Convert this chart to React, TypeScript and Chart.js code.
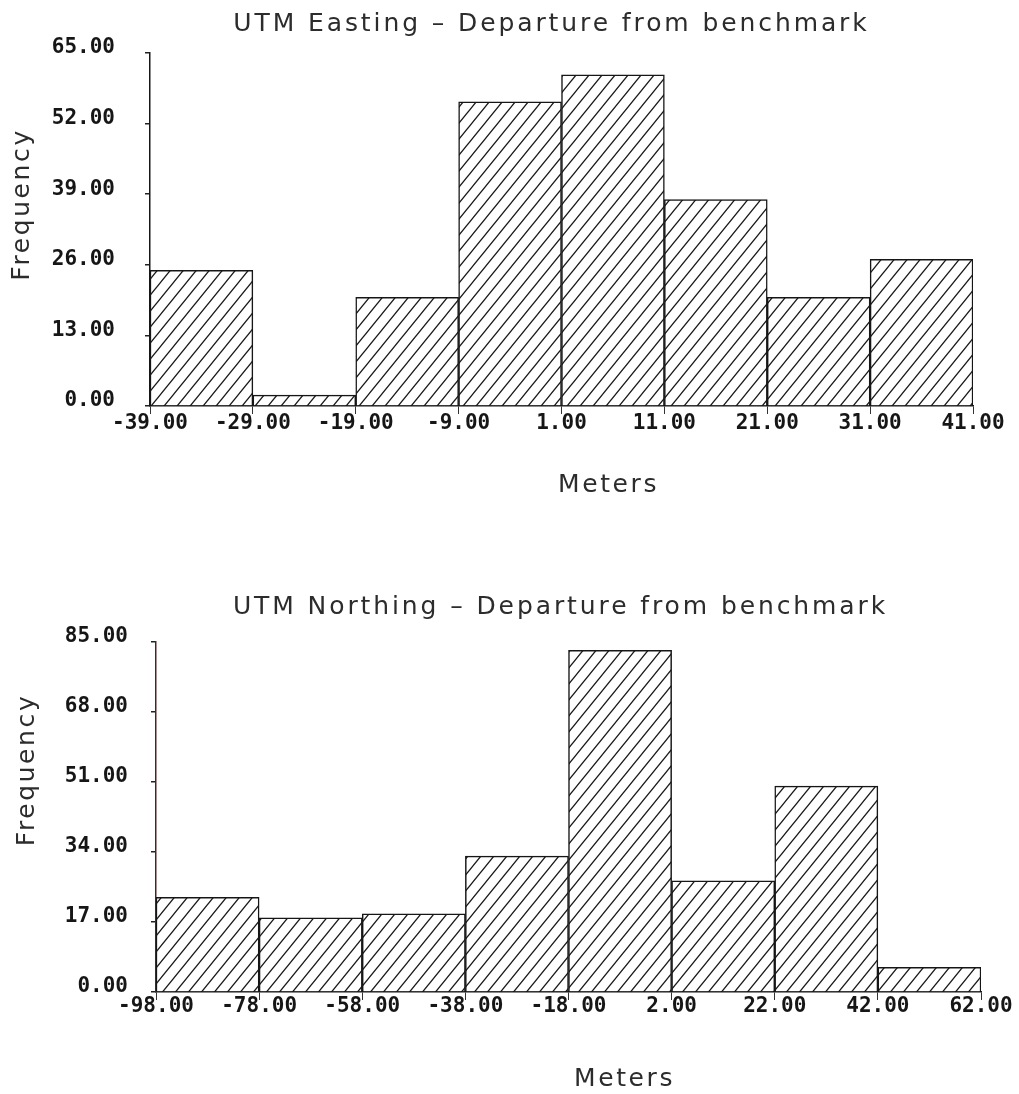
import React, { useEffect, useRef } from 'react';
import { Chart, registerables } from 'chart.js';

Chart.register(...registerables);

// ---------- data ----------
const eastingTitle = 'UTM Easting – Departure from benchmark';
const eastingEdges = [-39, -29, -19, -9, 1, 11, 21, 31, 41];
const eastingCounts = [25, 2, 20, 56, 61, 38, 20, 27];
const eastingYTicks = [0, 13, 26, 39, 52, 65];

const northingTitle = 'UTM Northing – Departure from benchmark';
const northingEdges = [-98, -78, -58, -38, -18, 2, 22, 42, 62];
const northingCounts = [23, 18, 19, 33, 83, 27, 50, 6];
const northingYTicks = [0, 17, 34, 51, 68, 85];

const xAxisTitle = 'Meters';
const yAxisTitle = 'Frequency';

// ---------- style ----------
const TEXT_FONT = 'DejaVu Sans';
const MONO_FONT = 'DejaVu Sans Mono';
const TEXT_COLOR = '#2c2c2c';
const INK = '#161616';

function makeHatch(): CanvasPattern | string {
  const w = 13;
  const h = 16;
  const c = document.createElement('canvas');
  c.width = w;
  c.height = h;
  const g = c.getContext('2d');
  if (!g) return '#fff';
  g.fillStyle = '#ffffff';
  g.fillRect(0, 0, w, h);
  g.strokeStyle = '#1a1a1a';
  g.lineWidth = 1.35;
  g.beginPath();
  for (const o of [-w, 0, w]) {
    g.moveTo(o - 1.3, h + 1.6);
    g.lineTo(o + w + 1.3, -1.6);
  }
  g.stroke();
  return g.createPattern(c, 'repeat') || '#fff';
}

type Layout = {
  height: number;
  titlePadTop: number;
  titlePadBottom: number;
  titleDx: number;
  yWidth: number;
  yTitlePadTop: number;
  yTitleDy: number;
  yTickPad: number;
  yBorderColor: string;
  padRight: number;
  xHeight: number;
  xTickPad: number;
  xTitlePadBottom: number;
  xTitleDx: number;
};

type Props = {
  title: string;
  edges: number[];
  counts: number[];
  yTicks: number[];
  layout: Layout;
};

function wrapDraw(chart: any, obj: any, name: string, dx: number, dy: number, spacing: string) {
  if (!obj || obj['__wrapped_' + name]) return;
  const orig = obj[name];
  obj[name] = function (...args: any[]) {
    const ctx = chart.ctx;
    ctx.save();
    try {
      (ctx as any).letterSpacing = spacing;
    } catch (e) {}
    ctx.translate(dx, dy);
    const r = orig.apply(this, args);
    ctx.restore();
    return r;
  };
  obj['__wrapped_' + name] = true;
}

function HistChart({ title, edges, counts, yTicks, layout }: Props) {
  const ref = useRef<HTMLCanvasElement>(null);

  useEffect(() => {
    if (!ref.current) return;
    const hatch = makeHatch();
    const points = counts.map((c, i) => ({ x: (edges[i] + edges[i + 1]) / 2, y: c }));
    const fmt = (v: any) => Number(v).toFixed(2);

    const spacingPlugin = {
      id: 'textSpacing',
      afterLayout(chart: any) {
        wrapDraw(chart, chart.titleBlock, 'draw', layout.titleDx, 0, '2.9px');
        wrapDraw(chart, chart.scales.x, 'drawTitle', layout.xTitleDx, 0, '2.6px');
        wrapDraw(chart, chart.scales.y, 'drawTitle', 0, layout.yTitleDy, '2.6px');
      },
    };

    const chart = new Chart(ref.current, {
      type: 'bar',
      data: {
        datasets: [
          {
            data: points as any,
            backgroundColor: hatch as any,
            borderColor: INK,
            borderWidth: 1.5,
            barPercentage: 1,
            categoryPercentage: 1,
          },
        ],
      },
      options: {
        animation: false,
        responsive: false,
        events: [],
        layout: { padding: { left: 0, right: layout.padRight, top: 0, bottom: 0 } },
        plugins: {
          legend: { display: false },
          tooltip: { enabled: false },
          title: {
            display: true,
            text: title,
            color: TEXT_COLOR,
            font: { family: TEXT_FONT, size: 25, weight: 'normal', lineHeight: 1.2 },
            padding: { top: layout.titlePadTop, bottom: layout.titlePadBottom },
          },
        },
        scales: {
          x: {
            type: 'linear',
            min: edges[0],
            max: edges[edges.length - 1],
            offset: false,
            afterBuildTicks: (s: any) => {
              s.ticks = edges.map((v) => ({ value: v }));
            },
            afterFit: (s: any) => {
              s.height = layout.xHeight;
            },
            ticks: {
              autoSkip: false,
              maxRotation: 0,
              minRotation: 0,
              padding: layout.xTickPad,
              color: INK,
              font: { family: MONO_FONT, size: 21, weight: 'bold' },
              callback: fmt,
            },
            grid: {
              display: true,
              drawOnChartArea: false,
              drawTicks: true,
              tickLength: 8,
              color: '#333',
              lineWidth: 1,
              offset: false,
            },
            border: { display: true, color: INK, width: 1.5 },
            title: {
              display: true,
              text: xAxisTitle,
              color: TEXT_COLOR,
              font: { family: TEXT_FONT, size: 25, weight: 'normal', lineHeight: 1.2 },
              padding: { top: 0, bottom: layout.xTitlePadBottom },
            },
          },
          y: {
            type: 'linear',
            min: yTicks[0],
            max: yTicks[yTicks.length - 1],
            afterBuildTicks: (s: any) => {
              s.ticks = yTicks.map((v) => ({ value: v }));
            },
            afterFit: (s: any) => {
              s.width = layout.yWidth;
            },
            ticks: {
              padding: layout.yTickPad,
              labelOffset: -5,
              color: INK,
              font: { family: MONO_FONT, size: 21, weight: 'bold' },
              callback: fmt,
            },
            grid: {
              display: true,
              drawOnChartArea: false,
              drawTicks: true,
              tickLength: 5,
              color: '#222',
              lineWidth: 1.5,
            },
            border: { display: true, color: layout.yBorderColor, width: 1.5 },
            title: {
              display: true,
              text: yAxisTitle,
              color: TEXT_COLOR,
              font: { family: TEXT_FONT, size: 25, weight: 'normal', lineHeight: 1.2 },
              padding: { top: layout.yTitlePadTop, bottom: 0 },
            },
          },
        },
      } as any,
      plugins: [spacingPlugin as any],
    });
    return () => chart.destroy();
  }, []);

  return (
    <canvas
      ref={ref}
      width={1019}
      height={layout.height}
      style={{ display: 'block', width: 1019, height: layout.height }}
    />
  );
}

const topLayout: Layout = {
  height: 520,
  titlePadTop: 9,
  titlePadBottom: 14,
  titleDx: 65,
  yWidth: 150,
  yTitlePadTop: 7,
  yTitleDy: -25,
  yTickPad: 30,
  yBorderColor: INK,
  padRight: 46,
  xHeight: 114,
  xTickPad: -3,
  xTitlePadBottom: 20,
  xTitleDx: 47,
};

const bottomLayout: Layout = {
  height: 574,
  titlePadTop: 72,
  titlePadBottom: 20,
  titleDx: 70,
  yWidth: 156,
  yTitlePadTop: 12,
  yTitleDy: -47,
  yTickPad: 23,
  yBorderColor: '#4e2222',
  padRight: 38,
  xHeight: 102,
  xTickPad: -6,
  xTitlePadBottom: 0,
  xTitleDx: 56,
};

export default function App() {
  return (
    <div style={{ position: 'absolute', left: 0, top: 0, width: 1019, height: 1094, background: '#ffffff' }}>
      <HistChart
        title={eastingTitle}
        edges={eastingEdges}
        counts={eastingCounts}
        yTicks={eastingYTicks}
        layout={topLayout}
      />
      <HistChart
        title={northingTitle}
        edges={northingEdges}
        counts={northingCounts}
        yTicks={northingYTicks}
        layout={bottomLayout}
      />
    </div>
  );
}
